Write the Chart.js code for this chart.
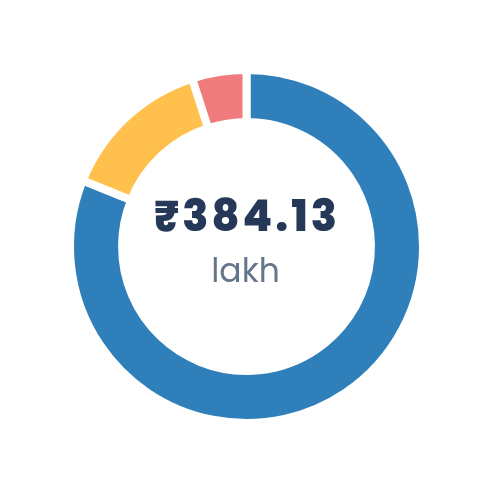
<!DOCTYPE html>
<html>
<head>
<meta charset="utf-8">
<script src="https://cdn.jsdelivr.net/npm/chart.js@4.4.1/dist/chart.umd.min.js"></script>
<style>
  html, body { margin: 0; padding: 0; background: #fff; }
  #wrap { position: relative; width: 493px; height: 493px; }
  .label {
    position: absolute; left: 0; width: 493px; text-align: center; box-sizing: border-box;
    pointer-events: none; font-family: Poppins, Inter, "Noto Sans", sans-serif;
  }
  #total { top: 195px; color: #253858; font-size: 43px; line-height: 43px; font-weight: 800;
           letter-spacing: 3px; padding-left: 3px; left: -1px; }
  #unit { top: 254px; color: #66758c; font-size: 33px; line-height: 33px; font-weight: 400; left: -1px; }
</style>
</head>
<body>
<div id="wrap">
  <canvas id="donut" width="493" height="493"></canvas>
  <div id="total" class="label"></div>
  <div id="unit" class="label"></div>
</div>
<script>
// ====== Portfolio split (in lakh) ======
const labels = ["Equity", "Debt", "Others"];
const values = [311.5, 53.5, 19.13];
const colors = ["#2e7fba", "#ffc04d", "#f07b7c"];
const unitLabel = "lakh";

const total = values.reduce((a, b) => a + b, 0);
document.getElementById("total").textContent = "₹" + total.toFixed(2);
document.getElementById("unit").textContent = unitLabel;

const ctx = document.getElementById("donut").getContext("2d");
new Chart(ctx, {
  type: "doughnut",
  data: {
    labels: labels,
    datasets: [{
      data: values,
      backgroundColor: colors,
      borderColor: "#ffffff",
      borderWidth: 8,
      hoverOffset: 0
    }]
  },
  options: {
    responsive: false,
    animation: false,
    cutout: "70.5%",
    layout: { padding: 66 },
    plugins: { legend: { display: false }, tooltip: { enabled: false } }
  }
});
</script>
</body>
</html>
